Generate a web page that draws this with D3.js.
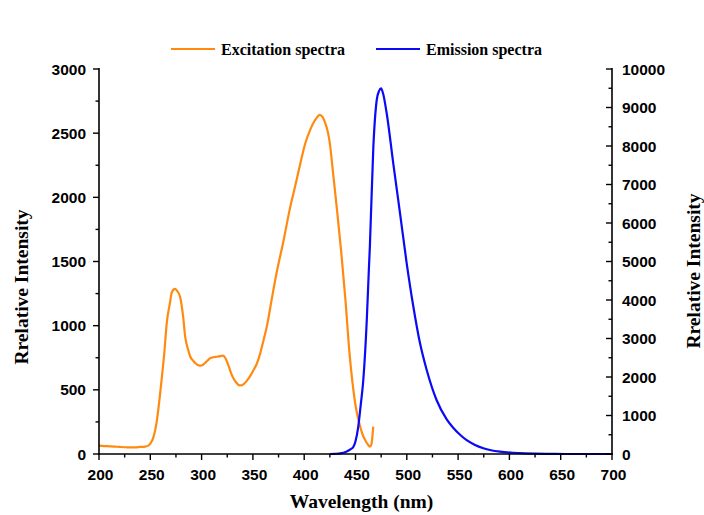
<!DOCTYPE html>
<html>
<head>
<meta charset="utf-8">
<script src="https://cdn.jsdelivr.net/npm/d3@7"></script>
<style>
body{margin:0;background:#fff;}
svg{display:block;}
</style>
</head>
<body>
<svg id="chart" width="704" height="515"></svg>
<script>
const excWave = [200,205,210,215,220,228,235,240,245,248,250,253,256,258,261,264,266,269,271,274,276,279,282,284,287,289,292,294,298,300,303,306,308,312,315,318,321,323,326,329,331,334,336,338,341,344,347,350,354,357,360,364,368,373,380,386,391,396,401,406,410,413,415,418,420,423,425,428,432,436,440,444,447,450,454,457,460,462,464,465.5,467.3];
const excVal  = [65,62,60,58,55,52,52,55,58,65,80,130,239,360,577,820,1018,1170,1260,1286,1272,1226,1070,914,810,758,725,707,688,690,707,730,745,755,758,762,766,750,693,625,590,555,538,534,545,570,603,645,707,780,875,1010,1190,1408,1668,1910,2080,2255,2420,2530,2595,2628,2642,2625,2590,2510,2421,2200,1900,1580,1220,800,560,380,230,150,100,75,58,75,213];
const emWave = [425,430,435,441,445,448,450,452.7,455,457.6,461,463,464,467.4,470.7,473,474.9,477,480.4,486.8,493.4,499.9,506.4,512.9,519.4,529,538.9,545,551.9,558,566,574.6,582,590.8,603.5,615,625,640,655,700];
const emVal  = [0,5,15,60,120,190,330,710,1250,1922,3480,4780,5385,7980,9195,9430,9498,9350,8850,7550,6252,4953,3826,2875,2182,1403,900,690,500,366,243,150,98,60,32,16,9,4,0,0];
const xTicks = [200,250,300,350,400,450,500,550,600,650,700];
const yLeftTicks = [0,500,1000,1500,2000,2500,3000];
const yRightTicks = [0,1000,2000,3000,4000,5000,6000,7000,8000,9000,10000];
const seriesNames = ["Excitation spectra","Emission spectra"];
const colors = ["#FF8A0F","#0A0AF5"];

const svg = d3.select("#chart");
const L = 99, R = 612, T = 69, B = 454;
const x = d3.scaleLinear().domain([200,700]).range([L,R]);
const yL = d3.scaleLinear().domain([0,3000]).range([B,T]);
const yR = d3.scaleLinear().domain([0,10000]).range([B,T]);

const tickFont = "bold 15.5px 'Liberation Sans', Arial, sans-serif";
const titleFont = "bold 19.5px 'Liberation Serif', 'Times New Roman', serif";

// curves
const lineE = d3.line().x((d,i)=>x(excWave[i])).y(d=>yL(d)).curve(d3.curveMonotoneX);
const lineM = d3.line().x((d,i)=>x(emWave[i])).y(d=>yR(d)).curve(d3.curveMonotoneX);
svg.append("path").attr("d", lineE(excVal)).attr("fill","none").attr("stroke",colors[0]).attr("stroke-width",2.2).attr("stroke-linejoin","round");
svg.append("path").attr("d", lineM(emVal)).attr("fill","none").attr("stroke",colors[1]).attr("stroke-width",2.2).attr("stroke-linejoin","round");

// bottom axis
const gx = svg.append("g").attr("transform",`translate(0,${B})`);
const xMinor = d3.range(200,701,25);
gx.selectAll("line.mt").data(xMinor).join("line")
  .attr("x1",d=>x(d)).attr("x2",d=>x(d)).attr("y1",0).attr("y2",d=>d%50===0?6:3.5)
  .attr("stroke","#000").attr("stroke-width",1.4);
gx.append("line").attr("x1",L-1).attr("x2",R+1).attr("y1",0).attr("y2",0).attr("stroke","#000").attr("stroke-width",1.6);
gx.selectAll("text").data(xTicks).join("text")
  .attr("x",d=>x(d)+1.5).attr("y",25.5).attr("text-anchor","middle")
  .style("font",tickFont).text(d=>d);

// left axis
const gl = svg.append("g").attr("transform",`translate(${L},0)`);
gl.selectAll("line.t").data(d3.range(0,3001,250)).join("line")
  .attr("x1",d=>d%500===0?-6:-3.5).attr("x2",0).attr("y1",d=>yL(d)).attr("y2",d=>yL(d))
  .attr("stroke","#000").attr("stroke-width",1.4);
gl.append("line").attr("x1",0).attr("x2",0).attr("y1",T-1).attr("y2",B+1).attr("stroke","#000").attr("stroke-width",1.6);
gl.selectAll("text").data(yLeftTicks).join("text")
  .attr("x",-13).attr("y",d=>yL(d)).attr("dy","0.36em").attr("text-anchor","end")
  .style("font",tickFont).text(d=>d);

// right axis (ticks inward)
const gr = svg.append("g").attr("transform",`translate(${R},0)`);
gr.selectAll("line.t").data(d3.range(0,10001,500)).join("line")
  .attr("x1",d=>d%1000===0?-6:-3.5).attr("x2",0).attr("y1",d=>yR(d)).attr("y2",d=>yR(d))
  .attr("stroke","#000").attr("stroke-width",1.4);
gr.append("line").attr("x1",0).attr("x2",0).attr("y1",T-1).attr("y2",B+1).attr("stroke","#000").attr("stroke-width",1.6);
gr.selectAll("text").data(yRightTicks).join("text")
  .attr("x",10).attr("y",d=>yR(d)).attr("dy","0.36em").attr("text-anchor","start")
  .style("font",tickFont).text(d=>d);

// titles
svg.append("text").attr("x",(L+R)/2+6).attr("y",508).attr("text-anchor","middle").style("font",titleFont).text("Wavelength (nm)");
svg.append("text").attr("transform","translate(28,287) rotate(-90)").attr("text-anchor","middle").style("font",titleFont).text("Rrelative Intensity");
svg.append("text").attr("transform","translate(700,271) rotate(-90)").attr("text-anchor","middle").style("font",titleFont).text("Rrelative Intensity");

// legend
const legX = [171,376];
seriesNames.forEach((n,i)=>{
  svg.append("line").attr("x1",legX[i]).attr("x2",legX[i]+44).attr("y1",49).attr("y2",49).attr("stroke",colors[i]).attr("stroke-width",2.2);
  svg.append("text").attr("x",legX[i]+50).attr("y",55).style("font","bold 16px 'Liberation Serif', 'Times New Roman', serif").text(n);
});
</script>
</body>
</html>
